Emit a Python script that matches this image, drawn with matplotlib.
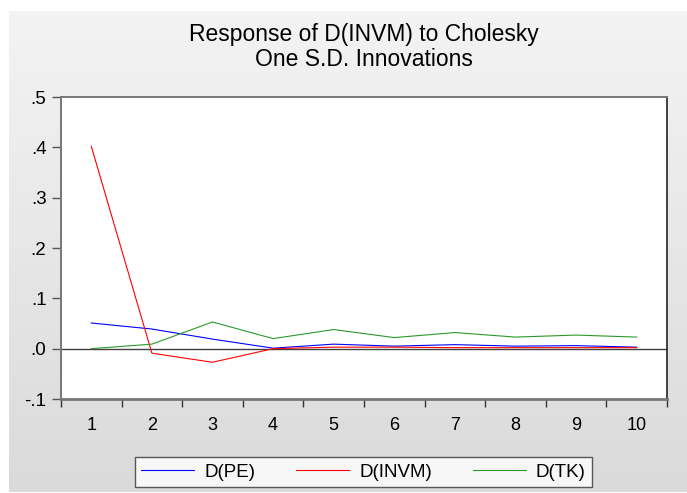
import numpy as np
import matplotlib
matplotlib.use("Agg")
import matplotlib.pyplot as plt

plt.rcParams['font.family'] = ['Liberation Sans', 'DejaVu Sans']

periods = [1, 2, 3, 4, 5, 6, 7, 8, 9, 10]
d_pe = [0.051, 0.039, 0.019, 0.001, 0.009, 0.005, 0.008, 0.005, 0.006, 0.003]
d_invm = [0.402, -0.009, -0.027, 0.000, 0.003, 0.003, 0.002, 0.002, 0.002, 0.002]
d_tk = [0.000, 0.009, 0.053, 0.020, 0.038, 0.022, 0.032, 0.023, 0.027, 0.023]

yticks = [-0.1, 0.0, 0.1, 0.2, 0.3, 0.4, 0.5]
ytick_labels = ['-.1', '.0', '.1', '.2', '.3', '.4', '.5']

W, H = 687, 493
fig = plt.figure(figsize=(W / 100, H / 100), dpi=100)
fig.patch.set_facecolor('white')

# grey panel behind everything, light at top, darker at bottom
bg = fig.add_axes([9 / W, 1 / H, 678 / W, 481 / H])
grad = np.linspace(0.955, 0.855, 256).reshape(-1, 1)
bg.imshow(np.dstack([grad, grad, grad]), aspect='auto', extent=[0, 1, 0, 1])
bg.axis('off')

ax = fig.add_axes([61 / W, (H - 399) / H, 606 / W, 302 / H])
ax.set_facecolor('white')

ax.plot(periods, d_pe, color='#0000ff', lw=0.8, label='D(PE)')
ax.plot(periods, d_invm, color='#ff0000', lw=0.8, label='D(INVM)')
ax.plot(periods, d_tk, color='#2a9a2a', lw=0.8, label='D(TK)')
ax.axhline(0, color='#404040', lw=1.0, zorder=1)

ax.set_xlim(0.5, 10.5)
ax.set_ylim(-0.1, 0.5)
ax.set_yticks(yticks)
ax.set_yticklabels(ytick_labels)

# ticks at category borders, labels centred in each category
ax.set_xticks(np.arange(0.5, 11, 1.0))
ax.set_xticklabels([])
ax.set_xticks(periods, minor=True)
ax.set_xticklabels([str(p) for p in periods], minor=True)
ax.tick_params(axis='x', which='major', direction='out', length=6, width=1, color='#333333')
ax.tick_params(axis='x', which='minor', length=0, pad=13, labelsize=13)
ax.tick_params(axis='y', direction='out', length=6.5, width=1, color='#555555', labelsize=13.5, pad=4)

for s in ['top', 'left']:
    ax.spines[s].set_color('#777777')
    ax.spines[s].set_linewidth(1.4)
ax.spines['right'].set_color('#222222')
ax.spines['right'].set_linewidth(1.2)
ax.spines['bottom'].set_color('#777777')
ax.spines['bottom'].set_linewidth(2)

fig.text(364 / W, 1 - 35 / H, 'Response of D(INVM) to Cholesky', ha='center', va='center', fontsize=16.5)
fig.text(364 / W, 1 - 60 / H, 'One S.D. Innovations', ha='center', va='center', fontsize=16.5)

leg = fig.legend(loc='center', ncol=3,
                 bbox_to_anchor=(363.5 / W, (H - 472) / H),
                 fontsize=13.5, handlelength=2.8, handletextpad=0.55,
                 columnspacing=2.2, frameon=True, fancybox=False,
                 borderaxespad=0, borderpad=0.35)
leg.get_frame().set_edgecolor('#333333')
leg.get_frame().set_linewidth(1.0)
leg.get_frame().set_facecolor('white')

fig.savefig('out.png', dpi=100)
